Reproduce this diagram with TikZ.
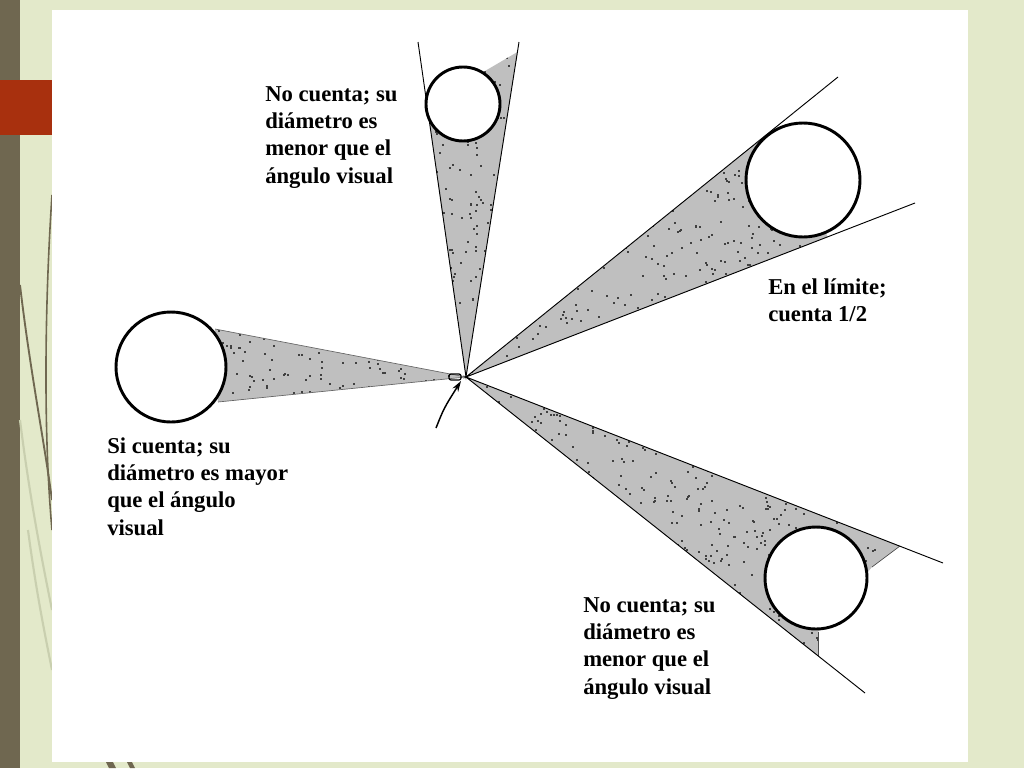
\documentclass[tikz,border=0pt]{standalone}
\usepackage{fontspec}
\setmainfont{Liberation Serif}
\usetikzlibrary{arrows.meta}
\definecolor{bggreen}{HTML}{E3E9CA}
\definecolor{olivebar}{HTML}{6F6750}
\definecolor{redbox}{HTML}{A8300E}
\definecolor{faintline}{HTML}{C9CFAF}
\begin{document}
\begin{tikzpicture}[x=0.75pt,y=-0.75pt,
  conefill/.style={fill=black!25},
  speck/.style={fill=black!75},
  ray/.style={draw=black, line width=0.7pt},
  ball/.style={circle, draw=black, fill=white, line width=2.2pt, inner sep=0pt},
  lbl/.style={anchor=north west, align=left, inner sep=0pt, font=\fontsize{17}{20.5}\selectfont\bfseries}]
\useasboundingbox (0,0) rectangle (1024,768);
% slide background
\fill[bggreen] (0,0) rectangle (1024,768);
\fill[olivebar] (0,0) rectangle (20,768);
\draw[faintline, line width=1.6pt] (20,420) .. controls (30,500) and (42,560) .. (52,610);
\draw[faintline, line width=1.6pt] (28,530) .. controls (36,590) and (44,630) .. (52,670);
\draw[olivebar, line width=1.2pt] (52,195) .. controls (45,300) and (43,430) .. (52,530);
\draw[olivebar, line width=1.4pt] (20,285) .. controls (30,370) and (44,440) .. (52,500);
\fill[olivebar] (106,762) -- (113,762) -- (116,768) -- (109,768) -- cycle;
\fill[olivebar] (127,762) -- (132,762) -- (135,768) -- (130,768) -- cycle;
\fill[white] (52,10) rectangle (968,762);
\fill[redbox] (0,80) rectangle (52,135);
% geometry
\coordinate (V) at (466,377);
\coordinate (T1) at (418,42);
\coordinate (T2) at (519,42);
\coordinate (R1) at (838,77);
\coordinate (R2) at (915,203);
\coordinate (S1) at (943,563);
\coordinate (S2) at (865,693);
\coordinate (A0) at (436,428);
% top cone
\begin{scope}
  \clip (V) -- (427,105) -- (517.4,52) -- cycle;
  \fill[conefill] (418,42) rectangle (520,377);
  \pgfmathsetseed{11}
  \foreach \i in {1,...,230}{
    \pgfmathsetmacro\px{418+102*rnd}
    \pgfmathsetmacro\py{42+335*rnd}
    \fill[speck] (\px,\py) rectangle ++(2,2);}
\end{scope}
% upper right cone
\begin{scope}
  \clip (V) -- (768,133.5) -- (827.8,236.8) -- cycle;
  \fill[conefill] (466,130) rectangle (830,377);
  \foreach \i in {1,...,600}{
    \pgfmathsetmacro\px{466+364*rnd}
    \pgfmathsetmacro\py{130+247*rnd}
    \fill[speck] (\px,\py) rectangle ++(2,2);}
\end{scope}
% left cone
\begin{scope}
  \clip (V) -- (215,329) -- (218,402) -- cycle;
  \fill[conefill] (210,325) rectangle (466,405);
  \foreach \i in {1,...,140}{
    \pgfmathsetmacro\px{210+256*rnd}
    \pgfmathsetmacro\py{325+80*rnd}
    \fill[speck] (\px,\py) rectangle ++(2,2);}
\end{scope}
\draw[black!60, line width=0.5pt] (215,329) -- (V) -- (218,402);
% lower right cone
\begin{scope}
  \clip (V) -- (900,546) -- (872,567) -- (818,632) -- (818,656) -- cycle;
  \fill[conefill] (466,377) rectangle (902,658);
  \foreach \i in {1,...,800}{
    \pgfmathsetmacro\px{466+436*rnd}
    \pgfmathsetmacro\py{377+281*rnd}
    \fill[speck] (\px,\py) rectangle ++(2,2);}
\end{scope}
\draw[black!70, line width=0.5pt] (900,546) -- (872,567);
\draw[black!70, line width=0.5pt] (818,632) -- (818,656);
% rays
\draw[ray] (T1) -- (V) -- (T2);
\draw[ray] (R1) -- (V) -- (R2);
\draw[ray] (S1) -- (V) -- (S2);
% circles
\node[ball, minimum size=55.5pt] (c1) at (463,104) {};
\node[ball, minimum size=85.5pt] (c2) at (803,180) {};
\node[ball, minimum size=82.5pt] (c3) at (171,367) {};
\node[ball, minimum size=76.5pt] (c4) at (816,578) {};
% eye and arrow
\draw[line width=0.9pt, rounded corners=1.5] (449,374) rectangle (461,380);
\draw[line width=1.1pt, -{Stealth[length=8pt,width=5pt]}] (A0) .. controls (444,408) .. (461,381);
% labels
\node[lbl] (t1) at (265,86) {No cuenta; su\\diámetro es\\menor que el\\ángulo visual};
\node[lbl] (t2) at (768,278) {En el límite;\\cuenta 1/2};
\node[lbl] (t3) at (107,437) {Si cuenta; su\\diámetro es mayor\\que el ángulo\\visual};
\node[lbl] (t4) at (583,597) {No cuenta; su\\diámetro es\\menor que el\\ángulo visual};
\end{tikzpicture}
\end{document}
